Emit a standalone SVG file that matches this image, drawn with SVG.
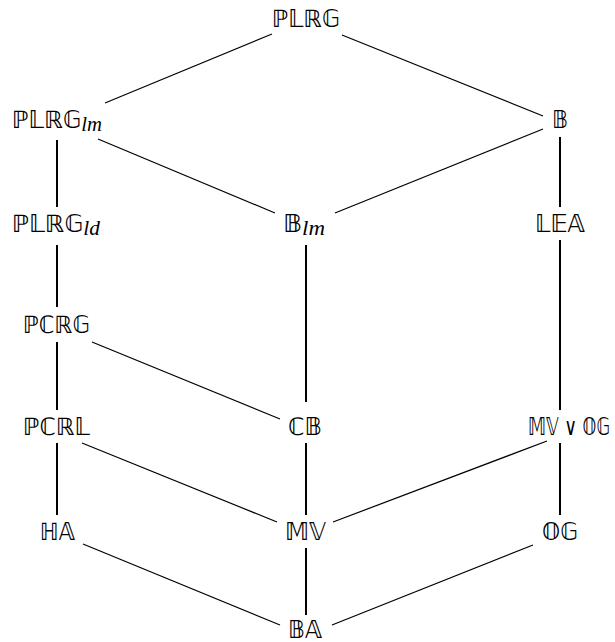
<svg xmlns="http://www.w3.org/2000/svg" width="615" height="642" viewBox="0 0 615 642">
<style>
.bb{font-family:"DejaVu Sans",sans-serif;font-size:24px;fill:#000}
.sub{font-family:"Liberation Serif",serif;font-style:italic;font-size:21px}
.e{stroke:#000;stroke-width:1.2;fill:none}
.v{stroke:#000;stroke-width:2;fill:none}
</style>
<rect width="615" height="642" fill="#fff"/>
<g id="edges">
<line class="e" x1="272" y1="34" x2="105" y2="103"/>
<line class="e" x1="342" y1="35" x2="543" y2="116"/>
<line class="v" x1="57" y1="140" x2="57" y2="207"/>
<line class="e" x1="98" y1="139" x2="275" y2="213"/>
<line class="e" x1="543" y1="129" x2="335" y2="213"/>
<line class="v" x1="560" y1="137" x2="560" y2="207"/>
<line class="v" x1="57" y1="245" x2="57" y2="307"/>
<line class="v" x1="306" y1="245" x2="306" y2="402"/>
<line class="v" x1="560" y1="240" x2="560" y2="410"/>
<line class="e" x1="92" y1="342" x2="280" y2="419"/>
<line class="v" x1="57" y1="342" x2="57" y2="410"/>
<line class="v" x1="57" y1="443" x2="57" y2="515"/>
<line class="e" x1="82" y1="443" x2="277" y2="522"/>
<line class="v" x1="306" y1="443" x2="306" y2="515"/>
<line class="e" x1="547" y1="441" x2="333" y2="522"/>
<line class="v" x1="560" y1="443" x2="560" y2="515"/>
<line class="e" x1="83" y1="544" x2="280" y2="625"/>
<line class="v" x1="306" y1="548" x2="306" y2="615"/>
<line class="e" x1="533" y1="545" x2="332" y2="625"/>
</g>
<g id="PLRG"><text class="bb" x="272" y="27" textLength="68" lengthAdjust="spacingAndGlyphs">&#x2119;&#x1D543;&#x211D;&#x1D53E;</text></g>
<g id="PLRG_lm"><text class="bb" x="12" y="128" textLength="90" lengthAdjust="spacingAndGlyphs">&#x2119;&#x1D543;&#x211D;&#x1D53E;<tspan class="sub" dy="3">lm</tspan></text></g>
<g id="B"><text class="bb" x="552" y="128" textLength="16" lengthAdjust="spacingAndGlyphs">&#x1D539;</text></g>
<g id="PLRG_ld"><text class="bb" x="12" y="232" textLength="88" lengthAdjust="spacingAndGlyphs">&#x2119;&#x1D543;&#x211D;&#x1D53E;<tspan class="sub" dy="3">ld</tspan></text></g>
<g id="B_lm"><text class="bb" x="283" y="232" textLength="42" lengthAdjust="spacingAndGlyphs">&#x1D539;<tspan class="sub" dy="3">lm</tspan></text></g>
<g id="LEA"><text class="bb" x="535" y="232" textLength="50" lengthAdjust="spacingAndGlyphs">&#x1D543;&#x1D53C;&#x1D538;</text></g>
<g id="PCRG"><text class="bb" x="23" y="333" textLength="67" lengthAdjust="spacingAndGlyphs">&#x2119;&#x2102;&#x211D;&#x1D53E;</text></g>
<g id="PCRL"><text class="bb" x="23" y="435" textLength="67" lengthAdjust="spacingAndGlyphs">&#x2119;&#x2102;&#x211D;&#x1D543;</text></g>
<g id="CB"><text class="bb" x="288" y="435" textLength="34" lengthAdjust="spacingAndGlyphs">&#x2102;&#x1D539;</text></g>
<g id="MVvOG"><text class="bb" x="528" y="435" textLength="82" lengthAdjust="spacingAndGlyphs">&#x1D544;&#x1D54D; &#x2228; &#x1D546;&#x1D53E;</text></g>
<g id="HA"><text class="bb" x="40" y="540" textLength="35" lengthAdjust="spacingAndGlyphs">&#x210D;&#x1D538;</text></g>
<g id="MV"><text class="bb" x="285" y="540" textLength="41" lengthAdjust="spacingAndGlyphs">&#x1D544;&#x1D54D;</text></g>
<g id="OG"><text class="bb" x="542" y="540" textLength="36" lengthAdjust="spacingAndGlyphs">&#x1D546;&#x1D53E;</text></g>
<g id="BA"><text class="bb" x="288" y="638" textLength="34" lengthAdjust="spacingAndGlyphs">&#x1D539;&#x1D538;</text></g>
</svg>
